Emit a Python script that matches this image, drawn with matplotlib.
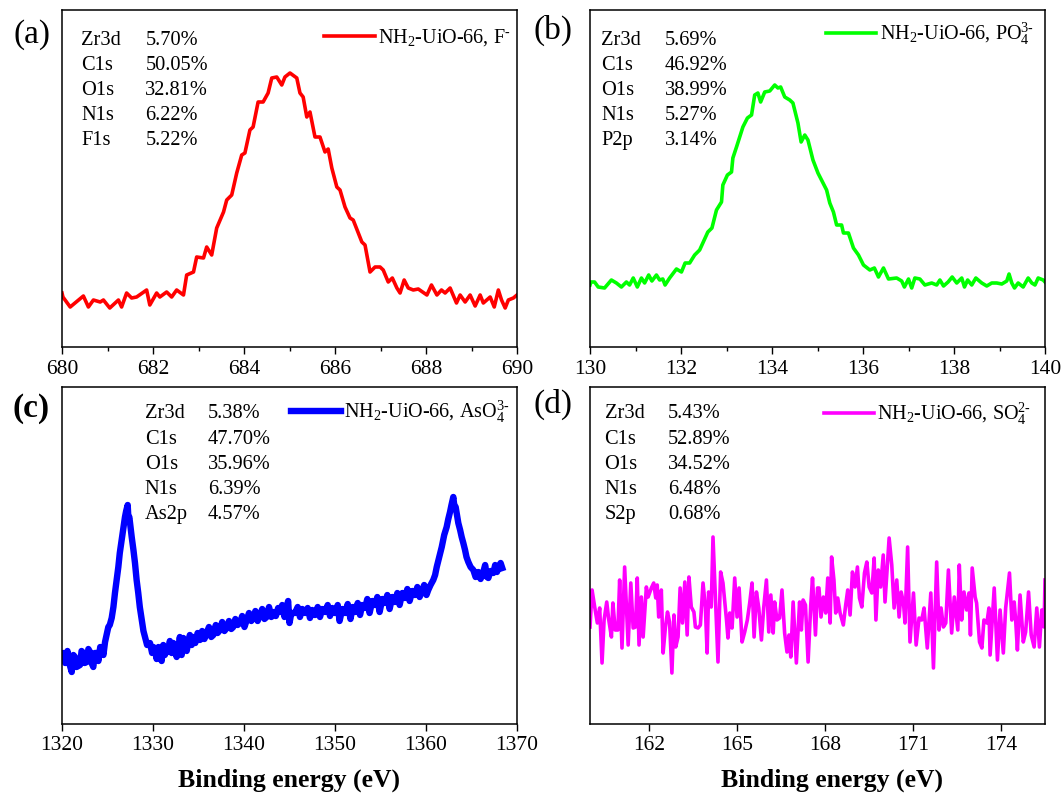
import matplotlib
matplotlib.use("Agg")
import matplotlib.pyplot as plt
from matplotlib.ticker import MultipleLocator

plt.rcParams.update({
    "font.family": "Liberation Serif",
    "mathtext.fontset": "custom",
    "mathtext.rm": "Liberation Serif",
    "mathtext.default": "regular",
})

# (a) F1s
e_a = [680.0, 680.02, 680.18, 680.47, 680.58, 680.69, 680.84, 680.91, 681.05, 681.24, 681.31,
       681.42, 681.53, 681.64, 681.86, 681.93, 682.08, 682.15, 682.30, 682.41, 682.52, 682.67,
       682.74, 682.89, 682.96, 683.11, 683.18, 683.29, 683.40, 683.55, 683.62, 683.73, 683.84,
       683.95, 684.02, 684.13, 684.20, 684.31, 684.42, 684.53, 684.61, 684.72, 684.83, 684.90,
       685.01, 685.16, 685.23, 685.30, 685.38, 685.45, 685.56, 685.67, 685.78, 685.85, 685.93,
       686.04, 686.11, 686.22, 686.33, 686.40, 686.59, 686.66, 686.77, 686.88, 686.99, 687.06,
       687.17, 687.26, 687.36, 687.43, 687.52, 687.61, 687.72, 687.83, 688.02, 688.12, 688.24,
       688.34, 688.42, 688.53, 688.67, 688.75, 688.86, 688.97, 689.08, 689.19, 689.26, 689.41,
       689.50, 689.59, 689.66, 689.74, 689.81, 689.92, 690.0]
i_a = [52, 48, 38, 49, 38, 45, 43, 45, 37, 45, 38,
       52, 47, 48, 55, 40, 52, 48, 53, 48, 55, 50,
       70, 73, 88, 87, 98, 90, 117, 133, 145, 150, 172,
       190, 192, 215, 218, 243, 243, 252, 267, 268, 260, 268,
       272, 267, 252, 248, 228, 233, 208, 208, 193, 196, 177,
       158, 155, 138, 127, 125, 103, 100, 73, 78, 78, 75,
       63, 67, 57, 52, 65, 57, 55, 56, 50, 60, 50,
       55, 52, 57, 42, 50, 43, 50, 39, 50, 42, 48,
       38, 55, 45, 37, 45, 47, 50]

# (b) P2p
e_b = [130.0, 130.02, 130.10, 130.18, 130.32, 130.47, 130.58, 130.69, 130.80, 130.87, 130.95,
       131.04, 131.13, 131.20, 131.29, 131.36, 131.46, 131.53, 131.60, 131.65, 131.75, 131.90,
       132.01, 132.09, 132.19, 132.30, 132.41, 132.48, 132.59, 132.68, 132.78, 132.89, 132.92,
       133.02, 133.11, 133.14, 133.22, 133.29, 133.36, 133.46, 133.55, 133.62, 133.69, 133.75,
       133.84, 133.95, 134.06, 134.13, 134.19, 134.28, 134.39, 134.46, 134.57, 134.64, 134.72,
       134.79, 134.90, 135.01, 135.20, 135.27, 135.35, 135.42, 135.53, 135.57, 135.68, 135.79,
       135.90, 136.01, 136.15, 136.25, 136.34, 136.45, 136.56, 136.74, 136.85, 136.91, 137.00,
       137.07, 137.14, 137.25, 137.36, 137.51, 137.62, 137.69, 137.77, 137.87, 137.96, 138.06,
       138.17, 138.23, 138.30, 138.39, 138.48, 138.61, 138.72, 138.83, 138.94, 139.05, 139.16,
       139.21, 139.27, 139.33, 139.41, 139.52, 139.63, 139.71, 139.78, 139.85, 139.96, 140.0]
i_b = [60, 63, 63, 58, 57, 65, 62, 58, 63, 60, 67,
       58, 67, 62, 70, 64, 70, 65, 66, 60, 67, 76,
       73, 82, 82, 90, 95, 102, 113, 117, 135, 143, 160,
       170, 173, 187, 198, 208, 218, 227, 230, 250, 252, 243,
       253, 254, 260, 257, 258, 248, 245, 242, 222, 203, 210,
       205, 185, 172, 155, 142, 133, 120, 120, 112, 112, 97,
       90, 80, 75, 77, 68, 77, 66, 67, 64, 58, 66,
       57, 67, 66, 60, 62, 60, 65, 59, 63, 68, 62,
       67, 58, 65, 60, 67, 62, 59, 62, 62, 61, 64,
       71, 62, 57, 62, 58, 67, 62, 60, 67, 65, 63]

# (c) As2p
e_c = [1320.0, 1320.14, 1320.35, 1320.6, 1320.85, 1321.07, 1321.25, 1321.43, 1321.6, 1321.98,
       1322.15, 1322.34, 1322.5, 1322.71, 1322.9, 1323.08, 1323.25, 1323.44, 1323.6, 1323.81,
       1324.0, 1324.2, 1324.36, 1324.55, 1324.73, 1324.9, 1325.09, 1325.25, 1325.46, 1325.65,
       1325.82, 1326.0, 1326.19, 1326.35, 1326.56, 1326.75, 1326.92, 1327.05, 1327.22, 1327.3,
       1327.40, 1327.5, 1327.66, 1327.85, 1328.02, 1328.2, 1328.38, 1328.55, 1328.76, 1328.95,
       1329.12, 1329.35, 1329.67, 1329.9, 1330.05, 1330.22, 1330.4, 1330.6, 1330.77, 1330.95,
       1331.13, 1331.3, 1331.5, 1331.68, 1331.85, 1332.05, 1332.23, 1332.4, 1332.6, 1332.78,
       1332.95, 1333.15, 1333.33, 1333.5, 1333.7, 1333.88, 1334.05, 1334.25, 1334.43, 1334.65,
       1334.9, 1335.16, 1335.4, 1335.65, 1335.90, 1336.15, 1336.4, 1336.63, 1336.9, 1337.1,
       1337.36, 1337.6, 1337.85, 1338.10, 1338.35, 1338.6, 1338.82, 1339.05, 1339.3, 1339.56,
       1339.8, 1340.05, 1340.30, 1340.55, 1340.8, 1341.02, 1341.25, 1341.5, 1341.76, 1342.0,
       1342.25, 1342.49, 1342.75, 1343.0, 1343.22, 1343.5, 1343.75, 1343.96, 1344.2, 1344.45,
       1344.69, 1344.85, 1345.0, 1345.2, 1345.6, 1345.9, 1346.15, 1346.4, 1346.7, 1347.0,
       1347.25, 1347.5, 1347.8, 1348.1, 1348.35, 1348.6, 1348.9, 1349.2, 1349.45, 1349.7,
       1350.0, 1350.3, 1350.5, 1350.8, 1351.1, 1351.4, 1351.7, 1351.95, 1352.2, 1352.5,
       1352.75, 1353.0, 1353.3, 1353.55, 1353.8, 1354.1, 1354.4, 1354.65, 1354.9, 1355.2,
       1355.49, 1355.75, 1356.0, 1356.3, 1356.59, 1356.85, 1357.1, 1357.4, 1357.69, 1357.95,
       1358.2, 1358.5, 1358.79, 1359.05, 1359.3, 1359.53, 1359.8, 1360.05, 1360.25, 1360.5,
       1360.80, 1361.0, 1361.18, 1361.45, 1361.73, 1362.0, 1362.27, 1362.45, 1362.64, 1362.8,
       1363.00, 1363.1, 1363.26, 1363.4, 1363.55, 1363.75, 1363.92, 1364.1, 1364.29, 1364.45,
       1364.65, 1364.9, 1365.2, 1365.45, 1365.75, 1366.0, 1366.3, 1366.5, 1366.7, 1366.85,
       1367.1, 1367.4, 1367.6, 1367.8, 1367.95, 1368.2, 1368.38]
i_c = [70, 72, 62, 74, 60, 53, 70, 68, 58, 60,
       74, 72, 62, 63, 76, 73, 62, 58, 72, 72,
       64, 78, 77, 70, 83, 90, 98, 100, 107, 118,
       132, 145, 158, 172, 185, 196, 208, 214, 220, 206,
       208, 200, 188, 175, 162, 145, 132, 118, 105, 94,
       88, 80, 82, 72, 78, 75, 66, 78, 72, 64,
       80, 70, 78, 73, 84, 72, 82, 74, 68, 77,
       88, 70, 87, 80, 74, 82, 90, 80, 88, 82,
       92, 85, 94, 86, 92, 98, 88, 90, 100, 92,
       95, 103, 94, 97, 104, 96, 98, 106, 100, 102,
       109, 98, 105, 112, 104, 107, 114, 104, 110, 116,
       106, 108, 118, 108, 113, 109, 117, 113, 120, 108,
       118, 124, 102, 112, 112, 118, 108, 116, 112, 117,
       107, 115, 110, 118, 108, 116, 113, 120, 109, 117,
       112, 120, 104, 116, 112, 121, 106, 118, 113, 122,
       110, 120, 117, 126, 112, 124, 120, 128, 113, 126,
       122, 130, 116, 128, 123, 132, 120, 132, 127, 136,
       124, 134, 130, 138, 128, 133, 140, 130, 135, 140,
       145, 150, 158, 168, 178, 190, 198, 206, 213, 220,
       228, 220, 218, 210, 202, 195, 188, 182, 175, 168,
       163, 158, 155, 148, 153, 146, 153, 160, 148, 147,
       154, 152, 160, 153, 157, 162, 157]

# (d) S2p
e_d = [160.0, 160.07, 160.16, 160.25, 160.33, 160.41, 160.48, 160.57, 160.64, 160.73,
       160.78, 160.86, 160.95, 161.01, 161.09, 161.18, 161.30, 161.39, 161.47, 161.55,
       161.61, 161.67, 161.75, 161.81, 161.92, 161.98, 162.09, 162.17, 162.24, 162.29,
       162.34, 162.43, 162.49, 162.57, 162.64, 162.71, 162.79, 162.86, 162.92, 163.00,
       163.07, 163.15, 163.23, 163.31, 163.37, 163.45, 163.54, 163.59, 163.68, 163.76,
       163.85, 163.93, 163.99, 164.04, 164.13, 164.19, 164.27, 164.36, 164.45, 164.53,
       164.65, 164.70, 164.76, 164.84, 164.93, 165.01, 165.08, 165.18, 165.27, 165.36,
       165.44, 165.52, 165.59, 165.67, 165.75, 165.84, 165.92, 166.01, 166.09, 166.16,
       166.24, 166.29, 166.37, 166.46, 166.54, 166.63, 166.71, 166.78, 166.84, 166.92,
       167.03, 167.14, 167.20, 167.26, 167.34, 167.43, 167.52, 167.58, 167.68, 167.75,
       167.80, 167.87, 167.95, 168.03, 168.10, 168.18, 168.23, 168.31, 168.37, 168.44,
       168.52, 168.63, 168.71, 168.78, 168.86, 168.94, 169.03, 169.11, 169.18, 169.26,
       169.35, 169.43, 169.51, 169.60, 169.68, 169.74, 169.82, 169.90, 169.99, 170.05,
       170.19, 170.28, 170.36, 170.45, 170.53, 170.60, 170.68, 170.73, 170.82, 170.90,
       171.02, 171.11, 171.21, 171.30, 171.38, 171.49, 171.61, 171.70, 171.81, 171.89,
       171.96, 172.04, 172.12, 172.21, 172.32, 172.41, 172.53, 172.58, 172.66, 172.74,
       172.83, 172.91, 172.96, 173.02, 173.12, 173.17, 173.27, 173.35, 173.42, 173.52,
       173.59, 173.63, 173.77, 173.88, 173.97, 174.08, 174.16, 174.29, 174.37, 174.45,
       174.50, 174.56, 174.65, 174.76, 174.84, 174.94, 175.03, 175.13, 175.22, 175.31,
       175.39, 175.47, 175.5]
i_d = [98, 135, 118, 102, 117, 62, 105, 123, 105, 88,
       122, 95, 95, 145, 77, 158, 80, 142, 97, 98,
       147, 80, 128, 88, 138, 128, 137, 142, 127, 140,
       108, 135, 72, 98, 113, 103, 52, 110, 78, 88,
       137, 102, 143, 90, 148, 118, 113, 98, 97, 100,
       142, 118, 72, 133, 118, 188, 130, 63, 153, 142,
       105, 87, 112, 97, 147, 108, 137, 83, 93, 105,
       122, 142, 88, 133, 117, 85, 118, 145, 93, 130,
       92, 123, 105, 107, 135, 92, 73, 90, 68, 123,
       62, 123, 95, 125, 120, 63, 120, 147, 90, 137,
       137, 108, 128, 112, 147, 102, 168, 145, 112, 127,
       112, 100, 120, 135, 110, 153, 138, 158, 127, 118,
       152, 163, 138, 132, 167, 105, 155, 138, 170, 123,
       187, 160, 117, 145, 108, 133, 122, 102, 178, 83,
       132, 80, 107, 105, 117, 77, 132, 57, 163, 95,
       117, 98, 102, 155, 92, 128, 95, 160, 105, 133,
       115, 132, 90, 157, 128, 122, 83, 77, 105, 102,
       117, 70, 137, 65, 115, 72, 117, 152, 105, 123,
       105, 75, 130, 83, 93, 133, 90, 78, 117, 78,
       115, 98, 145]

legend_labels = [
    r"NH$_2$-UiO-66, F$^{\text{-}}$",
    r"NH$_2$-UiO-66, PO$_4^{3\text{-}}$",
    r"NH$_2$-UiO-66, AsO$_4^{3\text{-}}$",
    r"NH$_2$-UiO-66, SO$_4^{2\text{-}}$",
]
elements = [
    ["Zr3d", "C1s", "O1s", "N1s", "F1s"],
    ["Zr3d", "C1s", "O1s", "N1s", "P2p"],
    ["Zr3d", "C1s", "O1s", "N1s", "As2p"],
    ["Zr3d", "C1s", "O1s", "N1s", "S2p"],
]
percents = [
    ["5.70%", "50.05%", "32.81%", "6.22%", "5.22%"],
    ["5.69%", "46.92%", "38.99%", "5.27%", "3.14%"],
    ["5.38%", "47.70%", "35.96%", "6.39%", "4.57%"],
    ["5.43%", "52.89%", "34.52%", "6.48%", "0.68%"],
]
colors = ["#ff0000", "#00ff00", "#0000ff", "#ff00ff"]
panel_tags = ["(a)", "(b)", "(c)", "(d)"]

fig = plt.figure(figsize=(10.64, 7.97), dpi=100)
W, H = 1064, 797
boxes = [(62, 10, 517, 347), (590, 10, 1045, 347),
         (62, 387, 517, 724), (590, 387, 1045, 724)]
axes = [fig.add_axes([x0 / W, 1 - y1 / H, (x1 - x0) / W, (y1 - y0) / H])
        for x0, y0, x1, y1 in boxes]

series = [(e_a, i_a), (e_b, i_b), (e_c, i_c), (e_d, i_d)]
lws = [2.6, 2.6, 4.6, 2.6]
xlims = [(680, 690), (130, 140), (1320, 1370), (160, 175.5)]
ylims = [(-2, 335), (-2, 335), (1, 338), (1, 338)]
xticks = [[680, 682, 684, 686, 688, 690], [130, 132, 134, 136, 138, 140],
          [1320, 1330, 1340, 1350, 1360, 1370], [162, 165, 168, 171, 174]]

# text placement (axes fraction)
label_x = [0.042, 0.025, 0.182, 0.032]
value_x = [0.183, 0.165, 0.321, 0.171]
row_top = [0.91, 0.91, 0.92, 0.92]
leg_anchor = [(0.985, 0.917), (0.975, 0.929), (0.983, 0.926), (0.970, 0.92)]

for k, ax in enumerate(axes):
    e, inten = series[k]
    ax.plot(e, inten, color=colors[k], lw=lws[k], label=legend_labels[k],
            solid_joinstyle="round")
    ax.set_xlim(*xlims[k])
    ax.set_ylim(*ylims[k])
    ax.set_xticks(xticks[k])
    if k < 2:
        ax.xaxis.set_minor_locator(MultipleLocator(1))
    ax.set_yticks([])
    ax.tick_params(axis="x", which="major", direction="out", length=5, width=1,
                   labelsize=15.5, pad=4)
    ax.tick_params(axis="x", which="minor", direction="out", length=3, width=1)
    for s in ax.spines.values():
        s.set_linewidth(1.1)
    for r in range(5):
        y = row_top[k] - r * 0.0745
        ax.text(label_x[k], y, elements[k][r], transform=ax.transAxes,
                fontsize=14.7, ha="left", va="center")
        ax.text(value_x[k], y, percents[k][r], transform=ax.transAxes,
                fontsize=14.7, ha="left", va="center")
    ax.legend(loc="center right", bbox_to_anchor=leg_anchor[k], frameon=False,
              fontsize=14.5, handlelength=2.5, handletextpad=0.15, borderpad=0,
              borderaxespad=0)

tag_pos = [(0.0127, 0.957), (0.501, 0.962), (0.0113, 0.488), (0.501, 0.492)]
for k, (tx, ty) in enumerate(tag_pos):
    fig.text(tx, ty, panel_tags[k], fontsize=24, ha="left", va="center",
             fontweight="bold" if k == 2 else "normal")

fig.text(289.5 / W, 1 - 780 / H, "Binding energy (eV)", fontsize=18.5,
         fontweight="bold", ha="center", va="center")
fig.text(832 / W, 1 - 780 / H, "Binding energy (eV)", fontsize=18.5,
         fontweight="bold", ha="center", va="center")

fig.savefig("out.png", dpi=100)
